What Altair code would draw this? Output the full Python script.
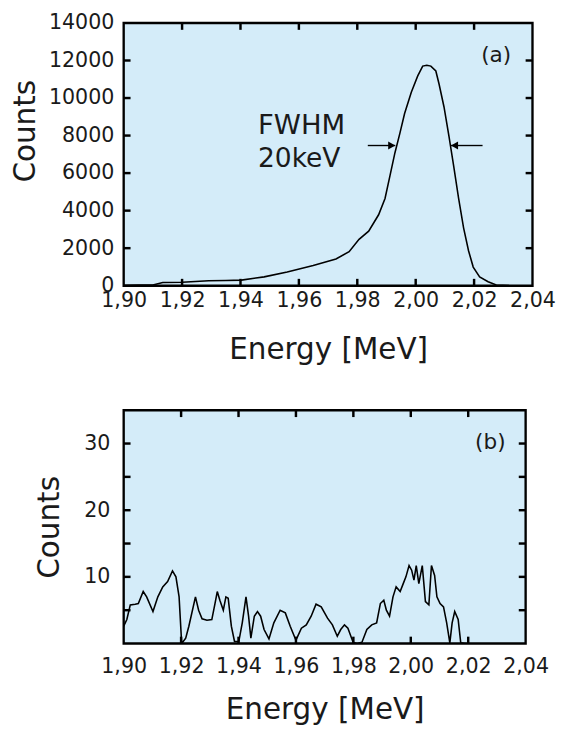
import altair as alt
import pandas as pd

# ---------------- data: panel (a) ----------------
energy_a = [1.900, 1.905, 1.910, 1.9134, 1.920, 1.9291, 1.935, 1.9403, 1.9481, 1.956,
            1.9649, 1.9727, 1.9772, 1.9806, 1.9839, 1.9873, 1.9895, 1.9912, 1.9929, 1.9946,
            1.9962, 1.9985, 2.0007, 2.0024, 2.0038, 2.0052, 2.0069, 2.0080, 2.0097, 2.0114,
            2.0130, 2.0147, 2.0164, 2.0181, 2.0197, 2.0219, 2.0248, 2.0276, 2.032, 2.040]
counts_a = [20, 30, 40, 170, 180, 261, 275, 297, 470, 731,
            1080, 1428, 1811, 2473, 2908, 3779, 4649, 5868, 7087, 8131,
            9176, 10307, 11179, 11701, 11750, 11701, 11440, 10745, 9523, 7956,
            6389, 4649, 3082, 1863, 993, 470, 209, 40, 10, 0]

# ---------------- data: panel (b) ----------------
energy_b = [1.9000, 1.9011, 1.9023, 1.9040, 1.9051, 1.9068, 1.9080, 1.9102, 1.9119, 1.9136,
            1.9153, 1.9170, 1.9182, 1.9193, 1.9202, 1.9216, 1.9227, 1.9250, 1.9261, 1.9273,
            1.9290, 1.9307, 1.9318, 1.9326, 1.9335, 1.9347, 1.9356, 1.9364, 1.9375, 1.9386,
            1.9401, 1.9413, 1.9426, 1.9435, 1.9443, 1.9455, 1.9466, 1.9477, 1.9489, 1.9506,
            1.9523, 1.9545, 1.9563, 1.9580, 1.9600, 1.9619, 1.9636, 1.9653, 1.9670, 1.9688,
            1.9710, 1.9727, 1.9744, 1.9756, 1.9769, 1.9781, 1.9799, 1.9813, 1.9830, 1.9847,
            1.9864, 1.9881, 1.9894, 1.9906, 1.9915, 1.9926, 1.9938, 1.9949, 1.9963, 1.9972,
            1.9983, 1.9994, 2.0003, 2.0011, 2.0019, 2.0028, 2.0040, 2.0051, 2.0063, 2.0072,
            2.0083, 2.0091, 2.0102, 2.0114, 2.0125, 2.0136, 2.0144, 2.0153, 2.0165, 2.0174,
            2.0188, 2.0195]
counts_b = [2.6, 3.6, 5.8, 5.9, 6.0, 7.8, 7.0, 4.8, 7.0, 8.5,
            9.3, 10.9, 10.0, 7.0, 0.0, 0.8, 2.6, 7.0, 5.0, 3.7,
            3.5, 3.6, 6.0, 7.8, 6.5, 5.0, 7.0, 6.8, 2.6, 0.3,
            0.3, 3.1, 7.0, 4.1, 0.8, 4.1, 4.8, 4.1, 2.1, 0.7,
            3.1, 5.0, 4.6, 2.6, 0.5, 2.3, 2.8, 4.1, 5.9, 5.5,
            3.8, 2.8, 1.1, 2.1, 2.8, 2.3, 0.2, 0.0, 0.2, 2.1,
            2.8, 3.1, 6.0, 6.5, 5.0, 4.1, 7.0, 8.5, 7.8, 8.8,
            10.0, 11.7, 11.0, 9.5, 11.7, 9.0, 11.7, 6.3, 5.8, 11.7,
            10.2, 7.0, 6.0, 5.5, 3.1, 0.1, 3.1, 4.8, 3.6, 0.1,
            0.0, 0.0]

# ---------------- axes / ticks ----------------
x_domain = [1.90, 2.04]
x_ticks = [1.90, 1.92, 1.94, 1.96, 1.98, 2.00, 2.02, 2.04]
x_inner_ticks = [1.92, 1.94, 1.96, 1.98, 2.00, 2.02]
y_domain_a = [0, 14000]
y_ticks_a = [0, 2000, 4000, 6000, 8000, 10000, 12000, 14000]
y_inner_a = [2000, 4000, 6000, 8000, 10000, 12000]
y_domain_b = [0, 35]
y_ticks_b = [10, 20, 30]
y_inner_b = [5, 10, 15, 20, 25, 30]

# FWHM arrows (energy of tail, energy of tip, count level)
fwhm_level = 7470
fwhm_left = [1.9836, 1.9930]
fwhm_right = [2.0229, 2.0121]

FONT = "DejaVu Sans"
INK = "#1a1a1a"
BG = "#d4ecf9"
W_A, H_A = 417, 268
W_B, H_B = 410, 238
TICK = 7

label_expr = "replace(format(datum.value, '.2f'), '.', ',')"


def x_enc(label_pad, title_pad):
    return alt.X(
        "E:Q",
        scale=alt.Scale(domain=x_domain, nice=False, zero=False),
        axis=alt.Axis(values=x_ticks, labelExpr=label_expr, title="Energy [MeV]",
                      labelPadding=label_pad, titlePadding=title_pad,
                      labelOverlap=False, labelFlush=False),
    )


def y_enc(domain, values, label_pad, title_pad, title_y=None):
    ax = dict(values=values, format="d", title="Counts",
              labelPadding=label_pad, titlePadding=title_pad,
              labelOverlap=False, labelFlush=False)
    if title_y is not None:
        ax["titleY"] = title_y
    return alt.Y("C:Q", scale=alt.Scale(domain=domain, nice=False, zero=False),
                 axis=alt.Axis(**ax))


def frame_ticks(X, Y, ydom, xin, yin, w, h):
    """Short inward tick marks on all four sides of the frame."""
    ty = TICK * (ydom[1] - ydom[0]) / h
    tx = TICK * (x_domain[1] - x_domain[0]) / w
    n, m = len(xin), len(yin)
    vx = pd.DataFrame({
        "E": xin + xin,
        "C": [ydom[1]] * n + [ydom[0]] * n,
        "C2": [ydom[1] - ty] * n + [ydom[0] + ty] * n,
    })
    hy = pd.DataFrame({
        "C": yin + yin,
        "E": [x_domain[0]] * m + [x_domain[1]] * m,
        "E2": [x_domain[0] + tx] * m + [x_domain[1] - tx] * m,
    })
    st = dict(color="black", strokeWidth=2.5)
    return [
        alt.Chart(vx).mark_rule(**st).encode(x=X, y=Y, y2="C2:Q"),
        alt.Chart(hy).mark_rule(**st).encode(x=X, x2="E2:Q", y=Y),
    ]


# ---------------- panel (a) ----------------
Xa = x_enc(4, 25)
Ya = y_enc(y_domain_a, y_ticks_a, 10, 8, title_y=110)
df_a = pd.DataFrame({"E": energy_a, "C": counts_a})

line_a = alt.Chart(df_a).mark_line(color="black", strokeWidth=1.6, clip=True).encode(x=Xa, y=Ya)

arrows = pd.DataFrame({
    "E": [fwhm_left[0], fwhm_right[0]],
    "E2": [fwhm_left[1], fwhm_right[1]],
    "C": [fwhm_level, fwhm_level],
})
arrow_lines = alt.Chart(arrows).mark_rule(color="black", strokeWidth=1.4).encode(
    x=Xa, x2="E2:Q", y=Ya)
head_l = alt.Chart(pd.DataFrame({"E": [fwhm_left[1] - 0.0012], "C": [fwhm_level]})).mark_point(
    shape="triangle-right", filled=True, size=70, color="black", opacity=1).encode(x=Xa, y=Ya)
head_r = alt.Chart(pd.DataFrame({"E": [fwhm_right[1] + 0.0012], "C": [fwhm_level]})).mark_point(
    shape="triangle-left", filled=True, size=70, color="black", opacity=1).encode(x=Xa, y=Ya)

txt = dict(font=FONT, color=INK)
lab_a = alt.Chart(pd.DataFrame({"t": ["(a)"]})).mark_text(fontSize=22, **txt).encode(
    text="t:N", x=alt.value(380), y=alt.value(33))
fwhm1 = alt.Chart(pd.DataFrame({"t": ["FWHM"]})).mark_text(
    fontSize=28, align="left", baseline="middle", **txt).encode(
    text="t:N", x=alt.value(137), y=alt.value(105))
fwhm2 = alt.Chart(pd.DataFrame({"t": ["20keV"]})).mark_text(
    fontSize=27, align="left", baseline="middle", **txt).encode(
    text="t:N", x=alt.value(137), y=alt.value(139))

top = alt.layer(
    line_a, arrow_lines, head_l, head_r, lab_a, fwhm1, fwhm2,
    *frame_ticks(Xa, Ya, y_domain_a, x_inner_ticks, y_inner_a, W_A, H_A),
).properties(width=W_A, height=H_A)

# ---------------- panel (b) ----------------
Xb = x_enc(13, 18)
Yb = y_enc(y_domain_b, y_ticks_b, 14, 20)
df_b = pd.DataFrame({"E": energy_b, "C": counts_b})
line_b = alt.Chart(df_b).mark_line(color="black", strokeWidth=1.6, clip=True).encode(x=Xb, y=Yb)
lab_b = alt.Chart(pd.DataFrame({"t": ["(b)"]})).mark_text(fontSize=22, **txt).encode(
    text="t:N", x=alt.value(374), y=alt.value(33))

bottom = alt.layer(
    line_b, lab_b, *frame_ticks(Xb, Yb, y_domain_b, x_inner_ticks, y_inner_b, W_B, H_B),
).properties(width=W_B, height=H_B)

chart = alt.vconcat(top, bottom, spacing=42).properties(
    padding={"left": 1, "top": -5, "right": 0, "bottom": 0},
    background="white",
).configure_view(
    fill=BG, stroke="black", strokeWidth=2.4,
).configure_axis(
    ticks=False, domain=False, grid=False,
    labelFont=FONT, labelFontSize=21, labelColor=INK,
    titleFont=FONT, titleFontSize=30, titleFontWeight="normal", titleColor=INK,
)

chart.save("out.html", embed_options={"renderer": "svg", "actions": False})
